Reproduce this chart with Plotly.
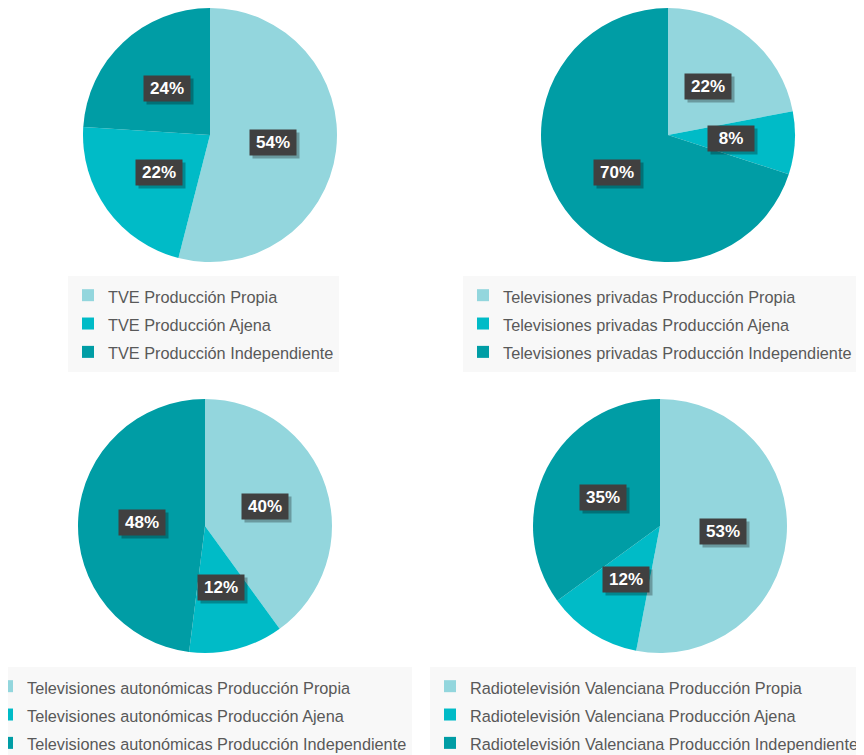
import math
import plotly.graph_objects as go

# ---- data ----
categories = ["Producción Propia", "Producción Ajena", "Producción Independiente"]
tve_vals = [54, 22, 24]
privadas_vals = [22, 8, 70]
autonomicas_vals = [40, 12, 48]
rtvv_vals = [53, 12, 35]
group_names = ["TVE", "Televisiones privadas", "Televisiones autonómicas", "Radiotelevisión Valenciana"]

colors = ["#93D6DD", "#00BBC7", "#009DA5"]

# the page body adds an 8px margin, so the figure is 8px smaller each way
W, H = 856, 747

# layout of the four pies (pixel centre, radius in figure coords)
pie_specs = [
    (202, 127, 127),
    (660, 127, 127),
    (197, 518, 127),
    (652, 518, 127),
]
legend_specs = [  # (left px, top px) in figure coords
    (60, 268),
    (455, 268),
    (-21, 659),
    (422, 659),
]
all_vals = [tve_vals, privadas_vals, autonomicas_vals, rtvv_vals]

fig = go.Figure()
annotations = []
for i, (vals, gname, (cx, cy, r)) in enumerate(zip(all_vals, group_names, pie_specs)):
    leg = "legend" if i == 0 else f"legend{i+1}"
    labels = [f"{gname} {c}" for c in categories]
    y0 = max(0.0, (H - cy - r) / H)
    y1 = min(1.0, (H - cy + r) / H)
    fig.add_trace(go.Pie(
        labels=[f'<span style="font-size:16.3px">{l}</span>' for l in labels],
        values=vals,
        sort=False,
        direction="clockwise",
        rotation=0,
        marker=dict(colors=colors, line=dict(width=0)),
        textinfo="none",
        hoverinfo="label+percent",
        domain=dict(x=[(cx - r) / W, (cx + r) / W], y=[y0, y1]),
        legend=leg,
        showlegend=True,
    ))
    total = sum(vals)
    cum = 0
    for v in vals:
        mid = (cum + v / 2) / total * 2 * math.pi
        cum += v
        px = cx + 0.5 * r * math.sin(mid)
        py = cy - 0.5 * r * math.cos(mid)
        txt = f"{round(v / total * 100)}%"
        common = dict(x=px / W, y=1 - py / H, xref="paper", yref="paper",
                      xanchor="center", yanchor="middle",
                      showarrow=False, width=46, height=25, borderpad=0)
        annotations.append(dict(text="", bgcolor="rgba(0,0,0,0.28)", xshift=3, yshift=-3, **common))
        annotations.append(dict(text=f"<b>{txt}</b>", bgcolor="#404040",
                                font=dict(family="Liberation Sans, Arial, sans-serif", size=17, color="white"),
                                **common))

layout_legends = {}
for i, (lx, ly) in enumerate(legend_specs):
    key = "legend" if i == 0 else f"legend{i+1}"
    layout_legends[key] = dict(
        x=lx / W, y=1 - ly / H, xanchor="left", yanchor="top",
        bgcolor="#F8F8F8", borderwidth=0,
        font=dict(family="Liberation Sans, Arial, sans-serif", size=19.5, color="#595959"),
        orientation="v",
    )

fig.update_layout(
    width=W, height=H,
    margin=dict(l=0, r=0, t=0, b=0, autoexpand=False),
    paper_bgcolor="white", plot_bgcolor="white",
    annotations=annotations,
    **layout_legends,
)

fig.write_html("out.html")
